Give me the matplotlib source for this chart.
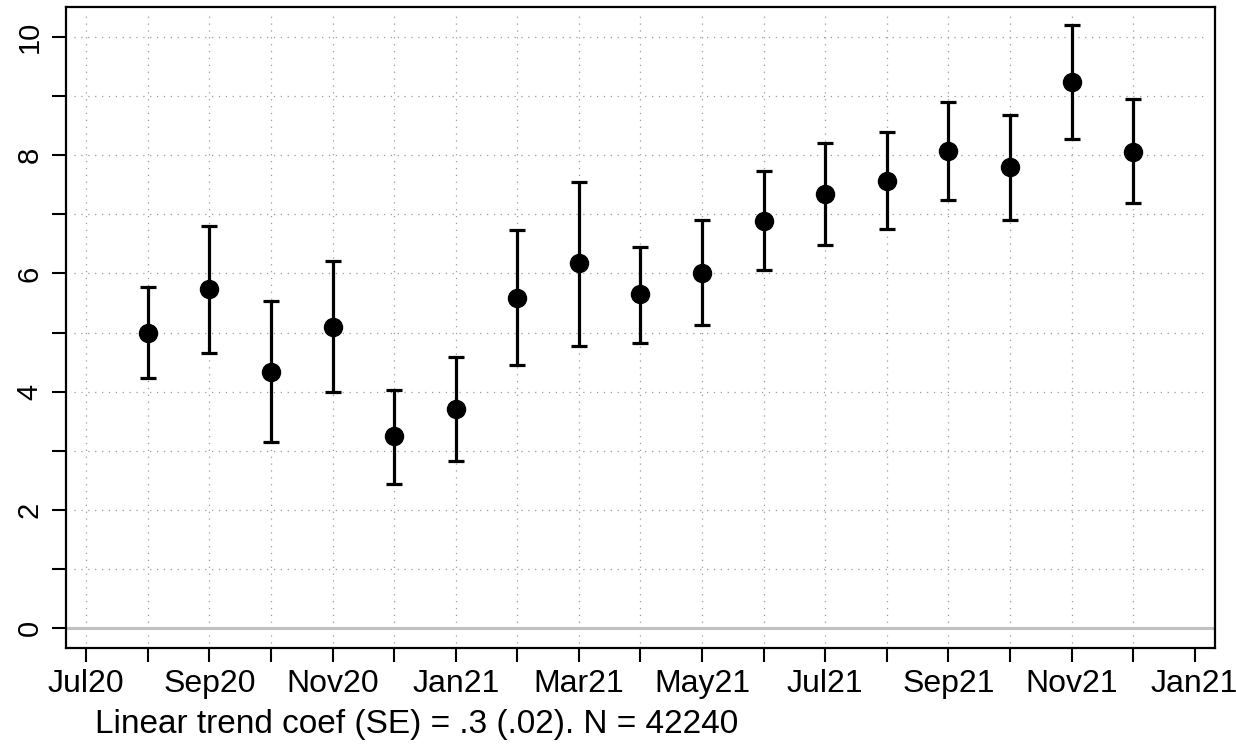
import numpy as np
import matplotlib
matplotlib.use("Agg")
import matplotlib.pyplot as plt

# Monthly estimates, Aug 2020 .. Dec 2021
months = ["Aug20", "Sep20", "Oct20", "Nov20", "Dec20", "Jan21", "Feb21",
          "Mar21", "Apr21", "May21", "Jun21", "Jul21", "Aug21", "Sep21",
          "Oct21", "Nov21", "Dec21"]
estimate = [5.00, 5.73, 4.34, 5.10, 3.24, 3.70, 5.59, 6.17, 5.65, 6.00,
            6.89, 7.34, 7.57, 8.07, 7.80, 9.24, 8.06]
ci_low = [4.23, 4.66, 3.14, 4.00, 2.44, 2.82, 4.45, 4.78, 4.83, 5.12,
          6.05, 6.48, 6.75, 7.24, 6.90, 8.28, 7.19]
ci_high = [5.77, 6.81, 5.53, 6.21, 4.02, 4.59, 6.74, 7.55, 6.45, 6.90,
           7.73, 8.20, 8.39, 8.91, 8.69, 10.20, 8.95]

# every month from Jul20 to the last tick gets a tick, every other one a label
x_tick_labels = ["Jul20", "Sep20", "Nov20", "Jan21", "Mar21", "May21",
                 "Jul21", "Sep21", "Nov21", "Jan21"]

note = "Linear trend coef (SE) = .3 (.02). N = 42240"


def main():
    plt.rcParams["font.family"] = ["Liberation Sans", "DejaVu Sans"]

    fig = plt.figure(figsize=(12.36, 7.52), dpi=100)
    ax = fig.add_axes([0.0534, 0.1383, 0.9296, 0.8524])

    x = np.arange(1, len(months) + 1)
    est = np.array(estimate)
    yerr = [est - np.array(ci_low), np.array(ci_high) - est]

    n_ticks = 2 * (len(x_tick_labels) - 1) + 1
    all_x = np.arange(n_ticks)
    all_y = np.arange(0, 11)

    # dotted grid (Stata style, none on the last month)
    for gx in all_x[:-1]:
        ax.plot([gx, gx], [-0.25, 10.45], color="#9a9a9a", lw=0.9,
                ls=(0, (1, 4.5)), zorder=1)
    for gy in all_y[1:]:
        ax.plot([-0.2, 18.2], [gy, gy], color="#9a9a9a", lw=0.9,
                ls=(0, (1, 4.5)), zorder=1)

    ax.axhline(0, color="#c0c0c0", lw=2.2, zorder=2)

    ax.errorbar(x, est, yerr=yerr, fmt="o", color="black", ms=13,
                elinewidth=2.3, capsize=6, capthick=2.3, zorder=3)

    ax.set_xlim(-0.33, 18.33)
    ax.set_ylim(-0.34, 10.51)

    ax.set_xticks(all_x)
    ax.set_xticklabels([x_tick_labels[i // 2] if i % 2 == 0 else ""
                        for i in all_x])
    ax.set_yticks(all_y)
    ax.set_yticklabels([str(v) if v % 2 == 0 else "" for v in all_y],
                       rotation=90, va="center")

    ax.tick_params(axis="x", length=10, width=1.5, pad=5, labelsize=23)
    ax.tick_params(axis="y", length=10, width=1.5, pad=6, labelsize=21)

    for side in ax.spines.values():
        side.set_linewidth(1.6)

    fig.text(0.077, 0.037, note, fontsize=24, ha="left", va="center")

    fig.savefig("out.png", dpi=100)


if __name__ == "__main__":
    main()
